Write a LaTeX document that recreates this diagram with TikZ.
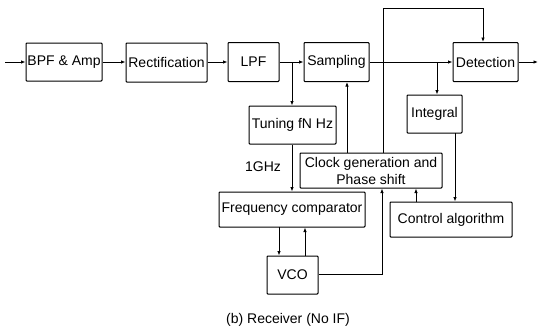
\documentclass[tikz,border=0pt]{standalone}
\usepackage{fontspec}
\setmainfont{Liberation Sans}
\usetikzlibrary{arrows.meta}
\begin{document}
\begin{tikzpicture}[x=1pt,y=-1pt,
  box/.style={draw,line width=1pt,inner sep=0pt,rounded corners=0.8pt,font=\fontsize{14}{16}\selectfont,align=center},
  lbl/.style={font=\fontsize{14}{16}\selectfont},
  wire/.style={line width=1pt},
  arr/.style={wire,-{Latex[length=4.5pt,width=3.5pt]}}]
\useasboundingbox (0,0) rectangle (542,330);
\node[box,minimum width=76pt,minimum height=38pt] (bpf) at (64,62) {BPF \& Amp};
\node[box,minimum width=81pt,minimum height=39pt] (rect) at (166.5,62.5) {Rectification};
\node[box,minimum width=51pt,minimum height=39pt] (lpf) at (253.5,62) {LPF};
\node[box,minimum width=65pt,minimum height=39pt] (samp) at (336.5,62) {Sampling};
\node[box,minimum width=65pt,minimum height=39pt] (det) at (485.5,62) {Detection};
\node[box,minimum width=87pt,minimum height=38pt] (tune) at (292.5,125) {Tuning fN Hz};
\node[box,minimum width=55pt,minimum height=38pt] (integ) at (434.5,114) {Integral};
\node[box,minimum width=142pt,minimum height=35pt] (clk) at (371,170.5) {Clock generation and\\[1pt]Phase shift};
\node[box,minimum width=146pt,minimum height=35pt] (freq) at (292,209.5) {Frequency comparator};
\node[box,minimum width=122pt,minimum height=35pt] (ctrl) at (451,219.5) {Control algorithm};
\node[box,minimum width=51pt,minimum height=38pt] (vco) at (292.5,275) {VCO};
\node[lbl] (ghz) at (263,167) {1GHz};
\node[lbl] (cap) at (288,320) {(b) Receiver (No IF)};
\coordinate (in) at (5,62);
\coordinate (out) at (538,62);
\coordinate (j1) at (292,62);
\coordinate (j2) at (437,62);
\coordinate (top) at (383,8);
\draw[arr] (in) -- (bpf.west);
\draw[arr] (bpf.east) -- (rect.west |- bpf.east);
\draw[arr] (rect.east |- lpf.west) -- (lpf.west);
\draw[arr] (lpf.east) -- (samp.west);
\draw[arr] (samp.east) -- (det.west);
\draw[arr] (det.east) -- (out);
\draw[arr] (j1) -- (j1 |- tune.north);
\draw[arr] (j2) -- (j2 |- integ.north);
\draw[arr] (tune.south -| j1) -- (j1 |- freq.north);
\draw[arr] (clk.north -| samp.south) ++(10.5,0) coordinate (c1) -- (c1 |- samp.south);
\draw[arr] (top |- clk.north) -- (top) -- (483,8) coordinate (t2) -- (t2 |- det.north);
\draw[arr] (455,133) coordinate (i1) -- (i1 |- ctrl.north);
\draw[arr] (416,202) coordinate (k1) -- (k1 |- clk.south);
\draw[arr] (279,227) coordinate (f1) -- (f1 |- vco.north);
\draw[arr] (305,256) coordinate (v1) -- (v1 |- freq.south);
\draw[arr] (vco.east |- 0,274) -- (382,274) coordinate (v2) -- (v2 |- clk.south);
\end{tikzpicture}
\end{document}
